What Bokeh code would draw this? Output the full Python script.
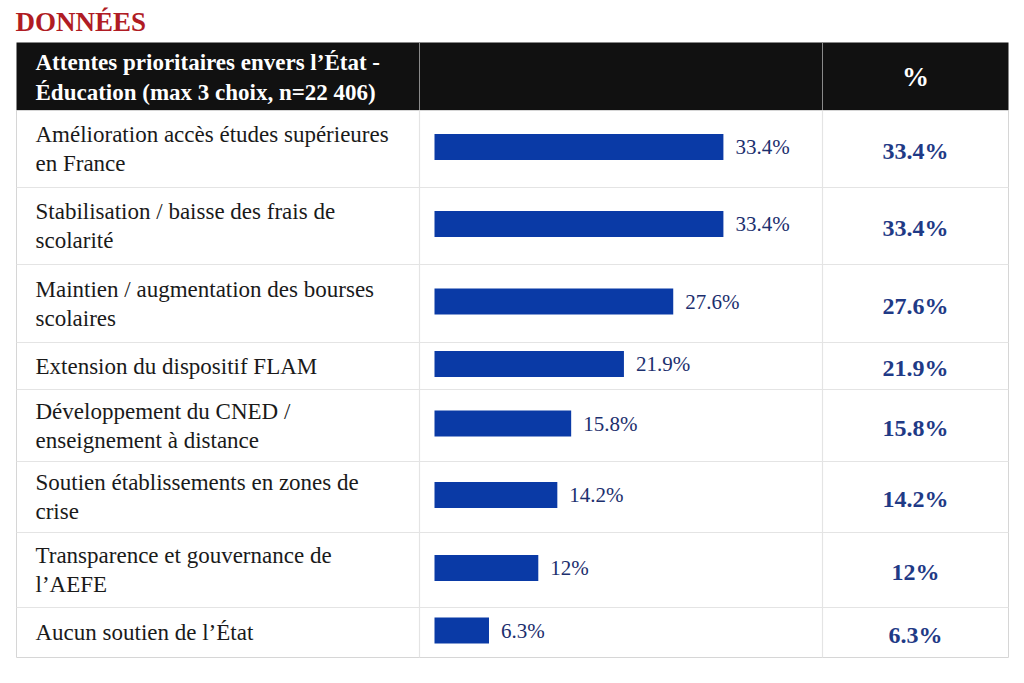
from bokeh.plotting import figure
from bokeh.models import Range1d, ColumnDataSource
from bokeh.core.properties import value
from bokeh.embed import file_html
from bokeh.resources import INLINE

# ---------------- data ----------------
title = "DONNÉES"
header_label = "Attentes prioritaires envers l’État -\nÉducation (max 3 choix, n=22 406)"
header_pct = "%"
categories = [
    "Amélioration accès études supérieures\nen France",
    "Stabilisation / baisse des frais de\nscolarité",
    "Maintien / augmentation des bourses\nscolaires",
    "Extension du dispositif FLAM",
    "Développement du CNED /\nenseignement à distance",
    "Soutien établissements en zones de\ncrise",
    "Transparence et gouvernance de\nl’AEFE",
    "Aucun soutien de l’État",
]
values = [33.4, 33.4, 27.6, 21.9, 15.8, 14.2, 12.0, 6.3]

# ---------------- layout ----------------
W, H = 1024, 683
TL, TR = 16, 1008          # table left/right
C1, C2 = 419, 822          # column dividers
HEAD_TOP, HEAD_BOT = 42, 110
BAR_X0 = 434               # pixel where value 0 sits
PX_PER_UNIT = 8.65
LINE_H = 29
ROW_H = [77, 77, 78, 47, 72, 71, 75, 50]
SERIF = value("Liberation Serif")

p = figure(width=W, height=H, output_backend="svg", toolbar_location=None,
           x_range=Range1d(0, W), y_range=Range1d(H, 0),
           min_border=0, min_border_left=0, min_border_right=0,
           min_border_top=0, min_border_bottom=0)
p.axis.visible = False
p.grid.visible = False
p.outline_line_color = None
p.background_fill_color = "white"
p.border_fill_color = "white"

# value range for bars, mapped over the whole frame width
p.extra_x_ranges = {"val": Range1d(-BAR_X0 / PX_PER_UNIT, (W - BAR_X0) / PX_PER_UNIT)}

tops, bots, mids = [], [], []
y = HEAD_BOT
for h in ROW_H:
    tops.append(y)
    bots.append(y + h)
    mids.append(y + h / 2)
    y += h
TB = y

# title
p.text(x=[TL - 1], y=[21], text=[title], text_font=SERIF, text_font_size="27px",
       text_font_style="bold", text_color="#b01c24", text_baseline="middle", text_align="left")

# header band
p.quad(left=[TL], right=[TR], top=[HEAD_TOP], bottom=[HEAD_BOT], fill_color="#111111", line_color=None)
p.segment(x0=[C1, C2], x1=[C1, C2], y0=[HEAD_TOP, HEAD_TOP], y1=[HEAD_BOT, HEAD_BOT],
          line_color="#8a8a8a", line_width=1)
hl = header_label.split("\n")
hmid = (HEAD_TOP + HEAD_BOT) / 2
hy = [hmid + 1 + (i - (len(hl) - 1) / 2) * 30 for i in range(len(hl))]
p.text(x=[35] * len(hl), y=hy, text=hl, text_font=SERIF, text_font_size="23px",
       text_font_style="bold", text_color="white", text_baseline="middle", text_align="left")
p.text(x=[(C2 + TR) / 2], y=[hmid], text=[header_pct], text_font=SERIF, text_font_size="27px",
       text_font_style="bold", text_color="white", text_baseline="middle", text_align="center")

# table body lines
p.quad(left=[TL], right=[TR], top=[HEAD_BOT], bottom=[TB], fill_color="white",
       line_color="#d6d6d6", line_width=1)
p.segment(x0=[TL] * (len(bots) - 1), x1=[TR] * (len(bots) - 1), y0=bots[:-1], y1=bots[:-1],
          line_color="#e4e4e4", line_width=1.2)
p.segment(x0=[C1, C2], x1=[C1, C2], y0=[HEAD_BOT, HEAD_BOT], y1=[TB, TB],
          line_color="#e4e4e4", line_width=1.2)

# category labels (wrapped lines)
lx, ly, lt = [], [], []
for cat, m in zip(categories, mids):
    parts = cat.split("\n")
    for i, part in enumerate(parts):
        lx.append(35)
        ly.append(m + (i - (len(parts) - 1) / 2) * LINE_H)
        lt.append(part)
p.text(x=lx, y=ly, text=lt, text_font=SERIF, text_font_size="23px", text_color="#1a1a1a",
       text_baseline="middle", text_align="left")

# bars
src = ColumnDataSource(dict(y=[m - 2 for m in mids], v=values,
                            lab=[f"{v:g}%" for v in values], mid=mids))
p.hbar(y="y", left=0, right="v", height=26, source=src, x_range_name="val",
       fill_color="#0a3aa6", line_color=None)
p.text(x="v", y="y", text="lab", source=src, x_range_name="val", x_offset=12,
       text_font=SERIF, text_font_size="21px", text_color="#1c2f6e",
       text_baseline="middle", text_align="left")

# right column values
p.text(x=[(C2 + TR) / 2] * len(values), y=[m + 2 for m in mids], text=[f"{v:g}%" for v in values],
       text_font=SERIF, text_font_size="24px", text_font_style="bold", text_color="#1f3a86",
       text_baseline="middle", text_align="center")

open("out.html", "w").write(file_html(p, INLINE))
